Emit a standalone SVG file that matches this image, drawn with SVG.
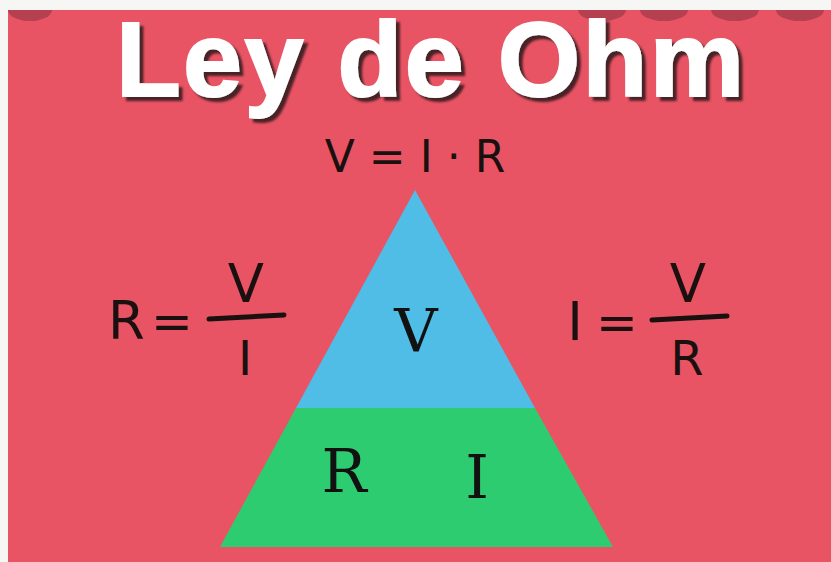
<svg xmlns="http://www.w3.org/2000/svg" width="831" height="562" viewBox="0 0 831 562">
<defs>
<filter id="shadow" x="-5%" y="-10%" width="115%" height="130%">
<feDropShadow dx="4" dy="4" stdDeviation="1" flood-color="#4a2228" flood-opacity="1"/>
</filter>
</defs>
<style>
.hand{font-family:"DejaVu Sans","Liberation Sans",sans-serif;fill:#1a1010;}
.slab{font-family:"DejaVu Serif","Liberation Serif",serif;fill:#111;}
.title{font-family:"Liberation Sans",Arial,sans-serif;font-weight:bold;font-size:106px;fill:#fff;stroke:#fff;stroke-width:2;}
.dot{fill:#b5404f;}
.bar{stroke:#1a1010;stroke-width:5;stroke-linecap:round;}
</style>
<rect x="0" y="0" width="831" height="562" fill="#f6f6f4"/>
<rect x="8" y="10" width="823" height="552" fill="#e95464"/>
<g id="dots">
<ellipse class="dot" cx="30" cy="10" rx="22" ry="11"/>
<ellipse class="dot" cx="602" cy="10" rx="24" ry="11"/>
<ellipse class="dot" cx="664" cy="10" rx="24" ry="11"/>
<ellipse class="dot" cx="735" cy="10" rx="24" ry="11"/>
<ellipse class="dot" cx="800" cy="10" rx="24" ry="11"/>
<rect x="0" y="0" width="831" height="10" fill="#f6f6f4"/>
</g>
<g id="title">
<text class="title" x="430" y="96" text-anchor="middle" textLength="628" filter="url(#shadow)">Ley de Ohm</text>
</g>
<g id="formula-top">
<text class="hand" x="415" y="172" font-size="44" text-anchor="middle">V = I · R</text>
</g>
<g id="triangle">
<polygon id="tri-top" points="415,190 535,408 296,408" fill="#4fbde6"/>
<polygon id="tri-bottom" points="296,408 535,408 613,547 220,547" fill="#2ecc71"/>
<text class="slab" x="416" y="352" font-size="60" text-anchor="middle">V</text>
<text class="slab" x="344" y="492" font-size="60" text-anchor="middle">R</text>
<text class="slab" x="477" y="498" font-size="60" text-anchor="middle">I</text>
</g>
<g id="formula-left">
<text class="hand" x="108" y="339" font-size="53">R</text>
<text class="hand" x="172" y="339" font-size="50" text-anchor="middle">=</text>
<text class="hand" x="246" y="302" font-size="53" text-anchor="middle">V</text>
<line class="bar" x1="209" y1="319" x2="284" y2="315"/>
<text class="hand" x="245" y="375" font-size="48" text-anchor="middle">I</text>
</g>
<g id="formula-right">
<text class="hand" x="575" y="340" font-size="53" text-anchor="middle">I</text>
<text class="hand" x="617" y="340" font-size="50" text-anchor="middle">=</text>
<text class="hand" x="688" y="302" font-size="53" text-anchor="middle">V</text>
<line class="bar" x1="652" y1="320" x2="727" y2="316"/>
<text class="hand" x="687" y="375" font-size="48" text-anchor="middle">R</text>
</g>
</svg>
